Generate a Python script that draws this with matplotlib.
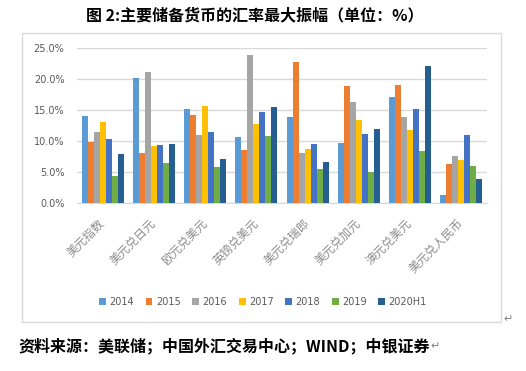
import matplotlib
matplotlib.use("Agg")
import matplotlib.pyplot as plt
import numpy as np
from matplotlib.patches import Rectangle

plt.rcParams['font.family'] = ['Noto Sans CJK SC', 'DejaVu Sans']

categories = ['美元指数', '美元兑日元', '欧元兑美元', '英镑兑美元',
              '美元兑瑞郎', '美元兑加元', '澳元兑美元', '美元兑人民币']
years = ['2014', '2015', '2016', '2017', '2018', '2019', '2020H1']
# max amplitude, %
v2014 = [14.1, 20.2, 15.2, 10.7, 13.9, 9.7, 17.1, 1.3]
v2015 = [9.9, 8.1, 14.2, 8.6, 22.8, 18.8, 19.1, 6.3]
v2016 = [11.5, 21.2, 11.0, 23.8, 8.1, 16.3, 13.9, 7.6]
v2017 = [13.1, 9.2, 15.7, 12.8, 8.7, 13.4, 11.8, 7.0]
v2018 = [10.4, 9.4, 11.5, 14.7, 9.5, 11.1, 15.2, 11.0]
v2019 = [4.4, 6.5, 5.8, 10.8, 5.5, 5.0, 8.4, 6.0]
v2020 = [7.9, 9.5, 7.1, 15.5, 6.6, 12.0, 22.1, 3.9]
series = [v2014, v2015, v2016, v2017, v2018, v2019, v2020]
colors = ['#5B9BD5', '#ED7D31', '#A5A5A5', '#FFC000', '#4472C4', '#70AD47', '#255E91']

W, H = 526, 371
fig = plt.figure(figsize=(W / 100, H / 100), dpi=100)
fig.patch.set_facecolor('white')

# chart frame
fig.patches.append(Rectangle((22 / W, 1 - 322 / H), (501 - 22) / W, (322 - 33) / H,
                             transform=fig.transFigure, fill=False,
                             edgecolor='#D9D9D9', linewidth=1))

ax = fig.add_axes([77 / W, 1 - 203 / H, (487 - 77) / W, (203 - 48) / H])
x = np.arange(len(categories))
bw = 0.117
for i, (vals, c) in enumerate(zip(series, colors)):
    ax.bar(x + (i - 3) * bw, np.array(vals) / 100, bw, color=c, label=years[i], zorder=3)

ax.set_xlim(-0.5, len(categories) - 0.5)
ax.set_ylim(0, 0.25)
ax.set_yticks(np.arange(0, 0.251, 0.05))
ax.set_yticklabels(['%.1f%%' % (t * 100) for t in np.arange(0, 0.251, 0.05)],
                   fontsize=7, color='#595959', family=['DejaVu Sans'])
ax.yaxis.grid(True, color='#D9D9D9', linewidth=1, zorder=0)
ax.set_axisbelow(True)
for s in ['top', 'right', 'left']:
    ax.spines[s].set_visible(False)
ax.spines['bottom'].set_color('#D9D9D9')
ax.tick_params(axis='both', length=0)
ax.tick_params(axis='y', pad=9)
ax.tick_params(axis='x', pad=13)
ax.set_xticks(x)
ax.set_xticklabels(categories, rotation=45, ha='right', va='center',
                   rotation_mode='anchor', fontsize=8.5, color='#8C8C8C')

leg = fig.legend(loc='center', bbox_to_anchor=(263 / W, 1 - 302 / H), ncol=7,
                 frameon=False, fontsize=7, handlelength=0.7, handleheight=0.7,
                 handletextpad=0.35, columnspacing=1.2)
for t in leg.get_texts():
    t.set_color('#595959')
    t.set_family(['DejaVu Sans'])

fig.text(255 / W, 1 - 15 / H, '图 2:主要储备货币的汇率最大振幅（单位：%）',
         ha='center', va='center', fontsize=11.5, fontweight='bold')
src = fig.text(18 / W, 1 - 346 / H, '资料来源：美联储；中国外汇交易中心；WIND；中银证券',
               ha='left', va='center', fontsize=11.5, fontweight='bold')

fig.canvas.draw()
bb = src.get_window_extent()
fig.text(bb.x1 / W + 0.002, 1 - 346 / H, '↵', ha='left', va='center',
         fontsize=8, color='#808080', family=['DejaVu Sans'])
fig.text(503 / W, 1 - 319 / H, '↵', ha='left', va='center',
         fontsize=8, color='#808080', family=['DejaVu Sans'])

fig.savefig('out.png', dpi=100)
